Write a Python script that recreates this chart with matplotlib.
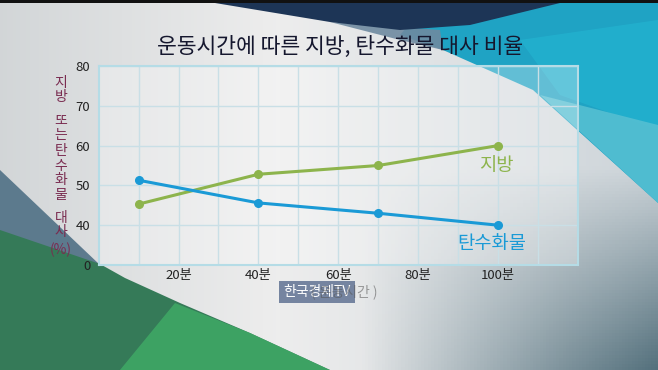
import numpy as np
import matplotlib.pyplot as plt
from matplotlib.patches import Polygon

plt.rcParams['font.family'] = ['Noto Sans CJK KR', 'DejaVu Sans']

# data
minutes = [10, 40, 70, 100]
fat = [45.3, 52.8, 55.0, 60.0]
carb = [51.3, 45.6, 43.0, 40.0]
x_ticks = [20, 40, 60, 80, 100]
x_labels = ['20분', '40분', '60분', '80분', '100분']
y_ticks = [30, 40, 50, 60, 70, 80]
y_labels = ['0', '40', '50', '60', '70', '80']

W, H = 658, 370
fig = plt.figure(figsize=(W / 100, H / 100), dpi=100)

# background (decorative)
bg = fig.add_axes([0, 0, 1, 1])
bg.set_xlim(0, W)
bg.set_ylim(H, 0)
bg.axis('off')
xx, yy = np.meshgrid(np.linspace(0, 1, 200), np.linspace(0, 1, 120))
left = np.array([0.78, 0.80, 0.81])
mid = np.array([0.93, 0.93, 0.93])
right = np.array([0.80, 0.83, 0.85])
w_mid = np.clip(1 - np.abs(xx - 0.42) / 0.6, 0, 1)[..., None]
img = mid * w_mid + np.where(xx[..., None] < 0.42, left, right) * (1 - w_mid)
dark = np.array([0.28, 0.40, 0.45])
d = np.clip((xx - 0.55) / 0.45, 0, 1) * np.clip((yy - 0.45) / 0.55, 0, 1)
img = img * (1 - d[..., None] * 0.9) + dark * d[..., None] * 0.9
bg.imshow(img, extent=[0, W, H, 0], aspect='auto', zorder=0)

shapes = [
    ([(430, 0), (658, 0), (658, 203), (533, 90), (443, 50), (400, 35)], '#1fa3c4', 1),
    ([(520, 40), (658, 20), (658, 130), (560, 95)], '#22b2cf', 0.8),
    ([(540, 95), (658, 125), (658, 203)], '#55bfd2', 0.9),
    ([(330, 22), (440, 30), (443, 50), (400, 40)], '#6f8aa0', 0.9),
    ([(215, 3), (560, 3), (470, 25), (400, 30), (330, 22)], '#1d3556', 1),
    ([(0, 170), (100, 265), (0, 232)], '#4f7085', 0.9),
    ([(0, 230), (100, 264), (125, 278), (180, 303), (250, 333), (330, 370), (0, 370)], '#357a58', 1),
    ([(175, 303), (250, 333), (330, 370), (120, 370)], '#3fa765', 0.9),
]
for pts, col, a in shapes:
    bg.add_patch(Polygon(pts, closed=True, facecolor=col, edgecolor='none', alpha=a, zorder=1))
bg.add_patch(Polygon([(0, 0), (W, 0), (W, 3), (0, 3)], facecolor='#111111', edgecolor='none', zorder=2))

# chart
ax = fig.add_axes([98.6 / W, 1 - 265 / H, (578 - 98.6) / W, (265 - 66) / H])
ax.set_facecolor((1, 1, 1, 0.3))
ax.set_xlim(0, 120)
ax.set_ylim(30, 80)
ax.set_xticks(x_ticks)
ax.set_xticklabels(x_labels)
ax.set_xticks(range(10, 120, 20), minor=True)
ax.set_yticks(y_ticks)
ax.set_yticklabels(y_labels)
ax.tick_params(axis='both', which='both', length=0, labelsize=9.5, colors='#222222')
ax.tick_params(axis='x', pad=3)
ax.tick_params(axis='y', pad=6)
ax.grid(True, which='both', color='#c9dfe6', linewidth=1)
for s in ax.spines.values():
    s.set_color('#b5dce6')
    s.set_linewidth(1.5)

ax.plot(minutes, fat, color='#8db44c', linewidth=2.2, marker='o', markersize=5.5, zorder=3)
ax.plot(minutes, carb, color='#1a9ad6', linewidth=2.2, marker='o', markersize=5.5, zorder=3)
ax.text(99.6, 55, '지방', color='#8db44c', fontsize=13.5, ha='center', va='center')
ax.text(98.5, 35.5, '탄수화물', color='#1a9ad6', fontsize=13.5, ha='center', va='center')

fig.text(340 / W, 1 - 47 / H, '운동시간에 따른 지방, 탄수화물 대사 비율', fontsize=15.5,
         color='#15172e', ha='center', va='center')

ylab = [('지\n방', 90), ('또\n는', 128), ('탄\n수\n화\n물', 173), ('대\n사', 225), ('(%)', 250)]
for t, y in ylab:
    fig.text(61 / W, 1 - y / H, t, fontsize=10, color='#7a2c50', ha='center', va='center',
             linespacing=1.05)

fig.text(317 / W, 1 - 292 / H, '한국경제TV', fontsize=10, color='white', ha='center', va='center',
         bbox=dict(boxstyle='square,pad=0.3', facecolor='#6f7f9c', edgecolor='none', alpha=0.95))
fig.text(344 / W, 1 - 292 / H, '( 운동시간 )', fontsize=10, color='#555555', alpha=0.55,
         ha='center', va='center')

fig.savefig('out.png', dpi=100)
